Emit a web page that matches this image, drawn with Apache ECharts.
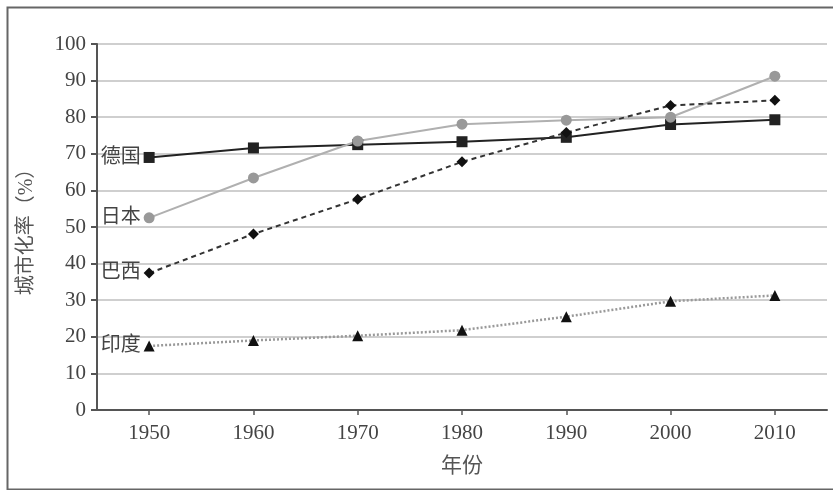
<!DOCTYPE html>
<html>
<head>
<meta charset="utf-8">
<script src="https://cdn.jsdelivr.net/npm/echarts@6/dist/echarts.min.js"></script>
<style>html,body{margin:0;padding:0;background:#fff;}#c{width:833px;height:490px;}</style>
</head>
<body>
<div id="c"></div>
<script>
const years = ['1950','1960','1970','1980','1990','2000','2010'];
const yTicks = [0,10,20,30,40,50,60,70,80,90,100];
const germany = [69, 71.6, 72.5, 73.3, 74.5, 78, 79.3];
const japan = [52.5, 63.4, 73.5, 78.1, 79.2, 80, 91.2];
const brazil = [37.4, 48.1, 57.6, 67.8, 75.8, 83.2, 84.6];
const india = [17.5, 19, 20.3, 21.8, 25.5, 29.7, 31.3];
const names = ['德国','日本','巴西','印度'];

const serif = '"Liberation Serif","DejaVu Serif","Noto Sans CJK SC",serif';
const cjk = '"Liberation Serif","Noto Sans CJK SC",serif';

function mk(name, data, color, symbol, size, lineType, lineWidth, symbolColor) {
  return {
    name: name, type: 'line', data: data,
    symbol: symbol, symbolSize: size,
    itemStyle: { color: symbolColor || color },
    lineStyle: { color: color, type: lineType, width: lineWidth },
    label: {
      show: true, position: 'left', distance: 3,
      formatter: p => p.dataIndex === 0 ? name : '',
      fontFamily: cjk, fontSize: 20, color: '#444'
    },
    emphasis: { disabled: true },
    animation: false
  };
}

const chart = echarts.init(document.getElementById('c'));
chart.setOption({
  animation: false,
  grid: { left: 97, top: 44, right: 6, bottom: 80, containLabel: false },
  graphic: [{
    type: 'rect', left: 5, top: 5,
    shape: { width: 850, height: 482 },
    style: { fill: 'none', stroke: '#666', lineWidth: 2 }, z: -1
  }],
  xAxis: {
    type: 'category', data: years, boundaryGap: true,
    name: '年份', nameLocation: 'middle', nameGap: 46,
    nameTextStyle: { fontFamily: cjk, fontSize: 21, color: '#555' },
    axisLine: { lineStyle: { color: '#555', width: 2 } },
    axisTick: { show: true, alignWithLabel: true, length: 5, lineStyle: { color: '#555', width: 1.5 } },
    axisLabel: { fontFamily: serif, fontSize: 21, color: '#444', margin: 13 }
  },
  yAxis: {
    type: 'value', min: 0, max: 100, interval: 10,
    name: '城市化率（%）', nameLocation: 'middle', nameGap: 60, nameRotate: 90,
    nameTextStyle: { fontFamily: cjk, fontSize: 20, color: '#555' },
    axisLine: { show: true, lineStyle: { color: '#555', width: 2 } },
    axisTick: { show: true, length: 6, lineStyle: { color: '#555', width: 2 } },
    axisLabel: { fontFamily: serif, fontSize: 21, color: '#444', margin: 11,
      formatter: v => yTicks.includes(v) ? String(v) : '' },
    splitLine: { show: true, lineStyle: { color: '#cfcfcf', width: 2 } }
  },
  series: [
    mk(names[0], germany, '#222', 'rect', 11, 'solid', 2),
    mk(names[1], japan, '#b0b0b0', 'circle', 11, 'solid', 2, '#999'),
    mk(names[2], brazil, '#333', 'diamond', 11, [5, 4], 2, '#111'),
    mk(names[3], india, '#999', 'triangle', 11, [2, 2], 2.5, '#111')
  ]
});
</script>
</body>
</html>
